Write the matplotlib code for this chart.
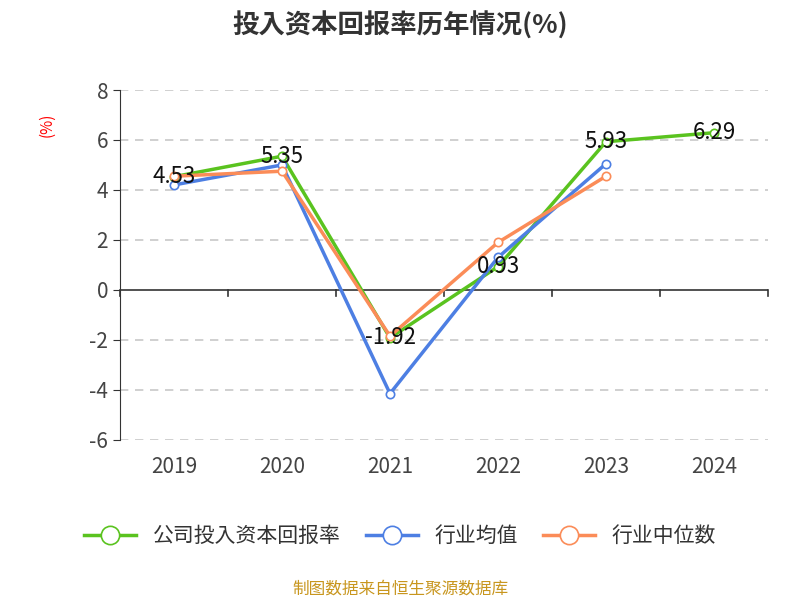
import matplotlib
matplotlib.use("Agg")
import matplotlib.pyplot as plt
from matplotlib import font_manager as fm
import numpy as np

cjk = None
for f in fm.findSystemFonts():
    if "CJK" in f or "cjk" in f.lower():
        try:
            fm.fontManager.addfont(f)
        except Exception:
            pass
        cjk = cjk or f
names = [f.name for f in fm.fontManager.ttflist if "CJK" in f.name]
family = ["Noto Sans CJK SC"] if "Noto Sans CJK SC" in names else (names[:1] or ["DejaVu Sans"])
plt.rcParams["font.family"] = family + ["DejaVu Sans"]
plt.rcParams["axes.unicode_minus"] = False

years = ["2019", "2020", "2021", "2022", "2023", "2024"]
company = [4.53, 5.35, -1.92, 0.93, 5.93, 6.29]
industry_avg = [4.2, 5.0, -4.15, 1.3, 5.05, np.nan]
industry_med = [4.55, 4.75, -1.85, 1.9, 4.55, np.nan]
yticks = [-6, -4, -2, 0, 2, 4, 6, 8]

fig = plt.figure(figsize=(8, 6), dpi=100)
ax = fig.add_axes([0.15, 0.267, 0.81, 0.583])
x = np.arange(len(years))
green, blue, orange = "#5ac31f", "#4d7fe3", "#fb8c58"
kw = dict(lw=2.5, marker="o", ms=6, mfc="white", mew=1.2, zorder=3)
ax.plot(x, company, color=green, label="公司投入资本回报率", **kw)
ax.plot(x, industry_avg, color=blue, label="行业均值", **kw)
ax.plot(x, industry_med, color=orange, label="行业中位数", **kw)
for xi, v in zip(x, company):
    ax.text(xi, v, f"{v:.2f}", ha="center", va="center", fontsize=16, color="#111", zorder=4)

ax.set_xlim(-0.5, len(years) - 0.5)
ax.set_ylim(-6, 8)
ax.set_yticks(yticks)
ax.set_yticklabels([str(t) for t in yticks], fontsize=15, color="#444")
ax.set_xticks(x)
ax.set_xticklabels(years, fontsize=15, color="#444")
ax.tick_params(axis="x", length=0, pad=12)
ax.tick_params(axis="y", length=5, color="#333")
for t in yticks:
    if t != 0:
        ax.axhline(t, color="#c8c8c8", lw=1.2, ls=(0, (5, 4)), zorder=1)
ax.axhline(0, color="#333", lw=1.2, zorder=2)
for b in np.arange(-0.5, len(years), 1.0):
    ax.plot([b, b], [0, -0.25], color="#333", lw=1.2, clip_on=False, zorder=2)
for s in ["top", "right", "bottom"]:
    ax.spines[s].set_visible(False)
ax.spines["left"].set_color("#333")
ax.set_ylabel("(%)", color="red", fontsize=11)
ax.yaxis.set_label_coords(-0.1, 0.9)

fig.text(0.5, 0.958, "投入资本回报率历年情况(%)", ha="center", va="center", fontsize=19, fontweight="bold", color="#333")
fig.legend(loc="center", bbox_to_anchor=(0.5, 0.107), ncol=3, frameon=False, fontsize=15,
           handlelength=2.5, columnspacing=1.2, labelcolor="#333", markerscale=2.2)
fig.text(0.5, 0.018, "制图数据来自恒生聚源数据库", ha="center", va="center", fontsize=12, color="#c8961e")
fig.savefig("out.png", dpi=100)
